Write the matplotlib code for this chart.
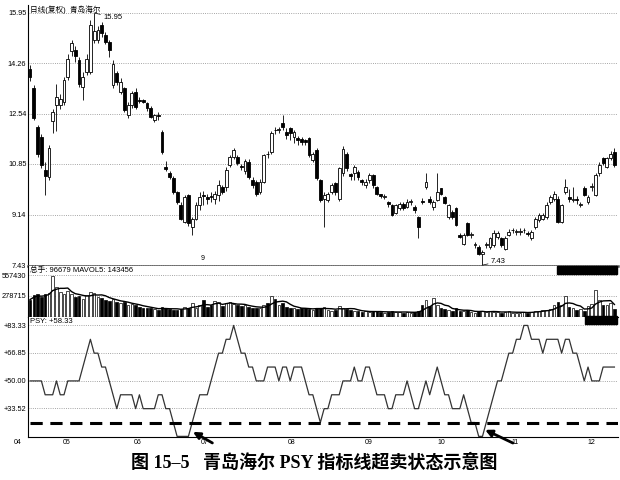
import numpy as np
import pandas as pd
import matplotlib
matplotlib.use('Agg')
import matplotlib.pyplot as plt
import matplotlib.transforms as mtransforms
from matplotlib.patches import Rectangle

plt.rcParams['font.family'] = ['Liberation Sans', 'Noto Sans CJK SC']

# daily candles (Apr - Dec)
opens = [14.05, 13.40, 12.10, 11.75, 10.65, 10.40, 12.30, 12.85, 12.85, 12.95,
         13.80, 14.65, 14.70, 14.35, 13.45, 13.95, 13.95, 15.05, 15.05, 15.54,
         15.20, 14.98, 13.52, 13.91, 13.29, 13.40, 12.50, 12.84, 13.29, 13.00,
         13.00, 12.90, 12.75, 12.33, 12.50, 11.94, 10.75, 10.53, 10.38, 9.91,
         9.46, 8.90, 9.80, 8.73, 9.00, 9.46, 9.80, 9.72, 9.76, 9.68,
         9.80, 10.08, 10.08, 10.81, 11.09, 11.09, 10.77, 10.60, 10.92, 10.30,
         10.25, 9.91, 10.25, 11.20, 11.26, 12.00, 12.00, 12.22, 11.94, 12.05,
         11.77, 11.71, 11.68, 11.66, 11.71, 10.98, 11.32, 10.30, 9.68, 9.63,
         9.91, 10.19, 9.68, 10.53, 11.20, 10.50, 10.53, 10.59, 10.30, 10.13,
         10.30, 10.47, 10.08, 9.82, 9.74, 9.55, 9.46, 9.18, 9.35, 9.50,
         9.40, 9.57, 9.40, 9.06, 9.60, 10.08, 9.68, 9.40, 9.63, 10.02,
         9.74, 9.06, 9.23, 9.35, 8.45, 8.16, 8.84, 8.45, 8.11, 8.05,
         7.79, 8.11, 8.05, 8.11, 8.39, 8.33, 7.99, 8.45, 8.61, 8.56,
         8.56, 8.61, 8.53, 8.33, 8.73, 8.95, 9.00, 9.06, 9.57, 9.68,
         9.68, 8.90, 9.91, 9.72, 9.63, 9.66, 9.46, 10.02, 9.57, 10.08,
         9.80, 10.53, 11.04, 10.75, 11.04, 11.26]
closes = [13.80, 12.40, 11.20, 10.80, 10.45, 11.40, 12.60, 13.10, 13.05, 13.70,
          14.40, 14.95, 14.50, 13.55, 13.80, 14.40, 15.55, 15.35, 15.37, 15.26,
          14.98, 14.70, 14.21, 13.63, 13.63, 12.67, 12.84, 13.23, 12.78, 12.98,
          12.95, 12.73, 12.45, 12.50, 12.48, 11.26, 10.68, 10.42, 9.91, 9.57,
          9.00, 9.74, 8.84, 9.00, 9.46, 9.74, 9.78, 9.68, 9.72, 9.85,
          10.13, 9.91, 10.64, 11.09, 11.32, 10.87, 10.75, 10.95, 10.42, 10.13,
          9.85, 10.25, 11.15, 11.18, 11.88, 11.98, 12.02, 12.10, 11.83, 11.88,
          11.94, 11.66, 11.60, 11.60, 11.15, 11.17, 10.36, 9.63, 9.80, 9.85,
          10.13, 9.91, 10.70, 11.37, 10.70, 10.45, 10.75, 10.42, 10.25, 10.25,
          10.47, 10.13, 9.85, 9.78, 9.74, 9.50, 9.12, 9.46, 9.50, 9.35,
          9.57, 9.57, 9.29, 8.73, 9.57, 10.25, 9.57, 9.57, 9.91, 9.85,
          9.52, 9.46, 9.06, 8.78, 8.39, 8.45, 8.45, 8.45, 8.11, 7.82,
          7.88, 8.11, 8.33, 8.50, 8.50, 8.11, 8.33, 8.56, 8.61, 8.56,
          8.56, 8.61, 8.48, 8.56, 9.00, 9.12, 9.12, 9.46, 9.74, 9.85,
          8.90, 9.46, 10.08, 9.68, 9.63, 9.62, 9.46, 9.80, 9.74, 10.08,
          10.47, 10.81, 10.87, 11.04, 11.20, 10.81]
highs = [14.20, 13.50, 12.15, 11.85, 10.90, 11.50, 12.70, 13.55, 13.20, 13.80,
         14.55, 15.05, 14.85, 14.45, 13.95, 14.55, 15.70, 15.95, 15.50, 15.65,
         15.30, 15.05, 14.35, 14.00, 13.75, 13.45, 12.95, 13.30, 13.40, 13.10,
         13.05, 12.95, 12.80, 12.55, 12.60, 12.00, 10.95, 10.60, 10.45, 9.95,
         9.55, 9.80, 9.85, 9.05, 9.55, 9.90, 9.95, 9.85, 9.90, 9.95,
         10.30, 10.15, 10.75, 11.15, 11.40, 11.15, 10.85, 11.00, 11.00, 10.40,
         10.30, 10.35, 11.20, 11.30, 11.95, 12.10, 12.10, 12.50, 12.05, 12.10,
         12.00, 11.80, 11.75, 11.70, 11.75, 11.25, 11.40, 10.35, 9.90, 9.90,
         10.20, 10.25, 10.75, 11.45, 11.25, 10.55, 10.80, 10.65, 10.35, 10.35,
         10.55, 10.50, 10.10, 9.85, 9.82, 9.60, 9.50, 9.50, 9.55, 9.55,
         9.65, 9.65, 9.45, 9.10, 9.70, 10.53, 9.75, 9.62, 10.53, 10.05,
         9.78, 9.50, 9.28, 9.40, 8.50, 8.50, 8.90, 8.55, 8.20, 8.10,
         7.95, 8.20, 8.38, 8.60, 8.58, 8.38, 8.40, 8.65, 8.70, 8.65,
         8.68, 8.70, 8.58, 8.62, 9.05, 9.18, 9.20, 9.55, 9.80, 9.95,
         9.75, 9.50, 10.35, 10.00, 10.08, 9.75, 9.55, 10.10, 9.80, 10.20,
         10.55, 10.90, 11.10, 11.10, 11.30, 11.40]
lows = [13.65, 12.35, 11.10, 10.70, 9.80, 10.30, 11.90, 11.95, 12.70, 12.85,
        13.70, 14.50, 14.30, 13.45, 13.00, 13.85, 13.90, 14.95, 14.95, 15.15,
        14.90, 14.45, 13.40, 13.50, 13.20, 12.60, 12.40, 12.75, 12.70, 12.90,
        12.90, 12.65, 12.40, 12.25, 12.35, 11.20, 10.60, 10.35, 9.85, 9.50,
        8.95, 8.85, 8.75, 8.45, 8.95, 9.30, 9.45, 9.50, 9.55, 9.50,
        9.60, 9.85, 9.95, 10.75, 11.00, 10.80, 10.65, 10.50, 10.35, 10.05,
        9.75, 9.85, 10.20, 11.05, 11.20, 11.85, 11.90, 12.00, 11.70, 11.65,
        11.55, 11.50, 11.50, 11.50, 11.10, 10.90, 10.30, 9.55, 8.73, 9.55,
        9.85, 9.80, 9.60, 10.45, 10.60, 10.30, 10.30, 10.30, 10.15, 10.05,
        10.20, 10.05, 9.80, 9.70, 9.65, 9.40, 9.08, 9.15, 9.30, 9.30,
        9.35, 9.45, 9.20, 8.33, 9.50, 10.00, 9.50, 9.30, 9.58, 9.80,
        9.48, 9.00, 9.00, 8.75, 8.35, 8.10, 8.40, 8.35, 8.00, 7.78,
        7.43, 8.00, 7.98, 8.05, 8.30, 8.05, 7.95, 8.40, 8.50, 8.45,
        8.45, 8.50, 8.40, 8.28, 8.65, 8.90, 8.95, 9.00, 9.50, 9.60,
        8.85, 8.85, 9.85, 9.55, 9.55, 9.50, 9.40, 9.75, 9.50, 9.95,
        9.75, 10.45, 10.80, 10.70, 10.98, 10.75]

# volume, thousands of shares
vol_k = [230, 290, 310, 270, 300, 320, 550, 400, 330, 300,
         340, 310, 260, 280, 240, 290, 330, 320, 270, 250,
         230, 210, 240, 200, 180, 190, 160, 170, 150, 130,
         120, 110, 115, 100, 90, 130, 110, 100, 95, 90,
         100, 135, 120, 180, 120, 150, 225, 130, 150, 210,
         190, 140, 180, 200, 170, 150, 140, 160, 130, 120,
         110, 120, 150, 180, 280, 240, 160, 180, 130, 120,
         110, 100, 110, 120, 100, 90, 120, 110, 130, 90,
         80, 90, 140, 120, 100, 90, 80, 70, 60, 70,
         65, 75, 70, 60, 55, 60, 70, 65, 60, 55,
         60, 55, 60, 80, 150, 220, 140, 250, 160, 120,
         100, 90, 80, 110, 80, 70, 90, 60, 55, 70,
         80, 60, 70, 65, 60, 55, 65, 70, 55, 50,
         55, 60, 55, 65, 70, 80, 90, 85, 100, 150,
         200, 160, 280, 130, 110, 90, 100, 80, 140, 170,
         355, 230, 160, 150, 180, 96.679]

# PSY(12)
psy = [50, 50, 50, 50, 41.67, 41.67, 41.67, 50, 41.67, 41.67,
       50, 50, 50, 50, 58.33, 66.67, 75, 66.67, 66.67, 58.33,
       58.33, 50, 41.67, 33.33, 41.67, 41.67, 41.67, 41.67, 33.33, 41.67,
       33.33, 33.33, 33.33, 33.33, 41.67, 41.67, 33.33, 33.33, 25, 16.67,
       16.67, 16.67, 16.67, 25, 33.33, 41.67, 41.67, 41.67, 50, 58.33,
       66.67, 66.67, 75, 75, 83.33, 75, 66.67, 66.67, 58.33, 58.33,
       50, 50, 50, 58.33, 58.33, 58.33, 50, 58.33, 58.33, 50,
       58.33, 58.33, 58.33, 50, 41.67, 41.67, 33.33, 25, 33.33, 33.33,
       41.67, 41.67, 41.67, 50, 50, 50, 58.33, 50, 50, 58.33,
       58.33, 50, 41.67, 41.67, 41.67, 33.33, 33.33, 41.67, 41.67, 41.67,
       50, 41.67, 33.33, 33.33, 41.67, 50, 41.67, 50, 58.33, 50,
       41.67, 41.67, 33.33, 33.33, 33.33, 41.67, 33.33, 25, 25, 16.67,
       16.67, 25, 33.33, 41.67, 50, 50, 58.33, 66.67, 66.67, 75,
       75, 83.33, 83.33, 75, 75, 75, 66.67, 75, 75, 75,
       75, 66.67, 75, 75, 66.67, 66.67, 58.33, 50, 58.33, 50,
       50, 50, 58.33, 58.33, 58.33, 58.33]

month_labels = ['04', '05', '06', '07', '08', '09', '10', '11', '12']
month_pos = [-3.2, 9.8, 28.4, 46.4, 69.5, 89.7, 109.0, 128.6, 148.8]

price_ticks = [15.95, 14.26, 12.54, 10.85, 9.14, 7.43]
vol_ticks = [557430, 278715]
psy_ticks = [83.33, 66.85, 50.00, 33.52]
psy_tick_labels = ['+83.33', '+66.85', '+50.00', '+33.52']

opens = np.array(opens)
closes = np.array(closes)
highs = np.array(highs)
lows = np.array(lows)
vols = np.array(vol_k) * 1000
x = np.arange(len(closes))
up = closes >= opens

W, H = 620, 480
fig = plt.figure(figsize=(6.2, 4.8), dpi=100)


def box(x0, y0, x1, y1):
    return [x0 / W, 1 - y1 / H, (x1 - x0) / W, (y1 - y0) / H]


ax_p = fig.add_axes(box(28, 5, 618, 266))
ax_v = fig.add_axes(box(28, 266, 618, 317), sharex=ax_p)
ax_s = fig.add_axes(box(28, 317, 618, 437), sharex=ax_p)

for ax in (ax_p, ax_v, ax_s):
    ax.spines['top'].set_visible(False)
    ax.spines['right'].set_visible(False)
    ax.spines['left'].set_linewidth(0.8)
    ax.spines['bottom'].set_linewidth(0.8)
    ax.yaxis.grid(True, ls=':', color='#888888', lw=0.6)
    ax.set_axisbelow(True)
    ax.tick_params(axis='y', length=0, labelsize=5.3, pad=1.2)
    ax.tick_params(axis='x', length=0, labelbottom=False)
ax_p.spines['bottom'].set_linewidth(1.8)
ax_p.spines['bottom'].set_color('#555555')
ax_p.set_xlim(-0.55, 155.95)

# candles
ax_p.vlines(x, lows, highs, color='black', lw=0.6, zorder=2)
body_bot = np.minimum(opens, closes)
body_h = np.maximum(np.abs(closes - opens), 0.02)
ax_p.bar(x[up], body_h[up], bottom=body_bot[up], width=0.75,
         facecolor='white', edgecolor='black', lw=0.6, zorder=3)
ax_p.bar(x[~up], body_h[~up], bottom=body_bot[~up], width=0.75,
         facecolor='black', edgecolor='black', lw=0.6, zorder=3)
ax_p.set_ylim(7.40, 16.22)
ax_p.set_yticks(price_ticks)
ax_p.set_yticklabels(['%.2f' % v for v in price_ticks])
ax_p.text(0.003, 0.998, '日线(复权)  青岛海尔', transform=ax_p.transAxes,
          fontsize=5.5, va='top', ha='left')
ax_p.annotate('15.95', xy=(17, highs[17]), xytext=(6.5, -3), textcoords='offset points',
              fontsize=5.5, va='center', ha='left',
              arrowprops=dict(arrowstyle='-', lw=0.5, color='black', shrinkA=0, shrinkB=0))
ax_p.annotate('7.43', xy=(120, lows[120]), xytext=(6, 2.5), textcoords='offset points',
              fontsize=5.5, va='center', ha='left',
              arrowprops=dict(arrowstyle='-', lw=0.5, color='black', shrinkA=0, shrinkB=0))
ax_p.text(45.9, 7.67, '9', fontsize=5, ha='center', va='center')

# volume
ax_v.bar(x[up], vols[up], width=0.7, facecolor='white', edgecolor='black', lw=0.5)
ax_v.bar(x[~up], vols[~up], width=0.7, facecolor='black', edgecolor='black', lw=0.5)
mavol = pd.Series(vols).rolling(5, min_periods=1).mean()
ax_v.plot(x, mavol, color='black', lw=1.0)
ax_v.set_ylim(-5000, 680000)
ax_v.set_yticks(vol_ticks)
ax_v.set_yticklabels([str(v) for v in vol_ticks])
ax_v.text(0.003, 0.99, '总手: 96679 MAVOL5: 143456', transform=ax_v.transAxes,
          fontsize=5.5, va='top', ha='left')

# PSY
ax_s.plot(x, psy, color='#333333', lw=0.9)
ax_s.axhline(25, color='black', lw=2.2, dashes=(4, 2.5), xmin=0.004)
ax_s.set_ylim(16.3, 88.4)
ax_s.set_yticks(psy_ticks)
ax_s.set_yticklabels(psy_tick_labels)
ax_s.text(0.003, 0.995, 'PSY: +58.33', transform=ax_s.transAxes,
          fontsize=5.5, va='top', ha='left')
trans = mtransforms.blended_transform_factory(ax_s.transData, ax_s.transAxes)
for pos, lab in zip(month_pos, month_labels):
    ax_s.text(pos, -0.02, lab, transform=trans, fontsize=5, ha='center', va='top',
              clip_on=False)

for xd, yv, off in [(43.2, 19.4, (14, -8)), (120.7, 20.6, (20, -9.5))]:
    ax_s.annotate('', xy=(xd, yv), xytext=off, textcoords='offset points',
                  annotation_clip=False,
                  arrowprops=dict(arrowstyle='-|>', lw=2.0, color='black',
                                  mutation_scale=10, shrinkA=0, shrinkB=0))

# black label boxes of the trading software
fig.add_artist(Rectangle((557 / W, 1 - 274 / H), 60 / W, 8 / H,
                         transform=fig.transFigure, color='black'))
fig.add_artist(Rectangle((585 / W, 1 - 324 / H), 32 / W, 8 / H,
                         transform=fig.transFigure, color='black'))

fig.text(0.506, 0.035, '图 15–5   青岛海尔 PSY 指标线超卖状态示意图',
         ha='center', va='center', fontsize=13, fontweight='bold',
         family=['Liberation Serif', 'Noto Sans CJK SC'])

fig.savefig('out.png', dpi=100)
